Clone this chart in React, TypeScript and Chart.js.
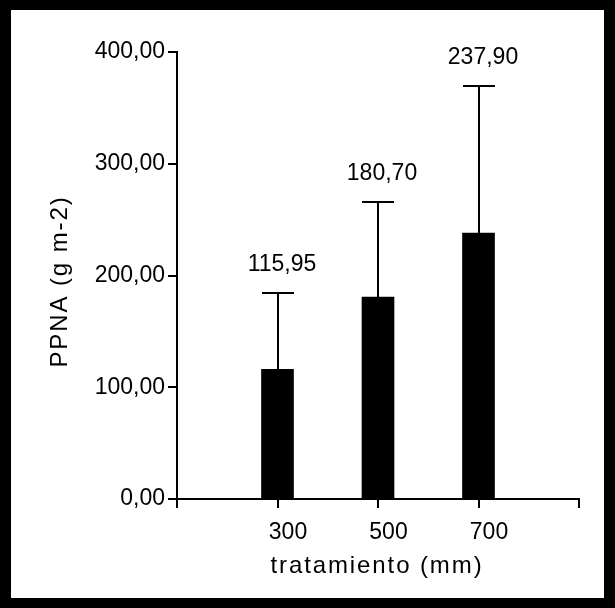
import React, { useEffect, useRef } from "react";
import { Chart, registerables } from "chart.js";

Chart.register(...registerables);

// Treatments (mm of water) and aboveground net primary production
const categories = ["300", "500", "700"];
const means = [115.95, 180.7, 237.9];
const sdUpper = [68.0, 84.7, 131.8];
const yTickValues = [0, 100, 200, 300, 400];

const xTitle = "tratamiento (mm)";
const yTitle = "PPNA (g m-2)";

const FONT = '"Liberation Sans", Arial, Helvetica, sans-serif';

const fmt = (v: number) => v.toFixed(2).replace(".", ",");

// Whiskers, value labels above them and the spaced-out axis titles
const overlay = {
  id: "overlay",
  afterDatasetsDraw(chart: any) {
    const { ctx, chartArea } = chart;
    const xs = chart.scales.x;
    const ys = chart.scales.y;
    ctx.save();
    ctx.strokeStyle = "#000";
    ctx.fillStyle = "#000";
    ctx.lineWidth = 2;
    means.forEach((m, i) => {
      const px = Math.round(xs.getPixelForValue(i + 1));
      const base = ys.getPixelForValue(m);
      const top = Math.round(ys.getPixelForValue(m + sdUpper[i]));
      ctx.beginPath();
      ctx.moveTo(px, base);
      ctx.lineTo(px, top);
      ctx.moveTo(px - 16, top);
      ctx.lineTo(px + 16, top);
      ctx.stroke();

      ctx.font = `23px ${FONT}`;
      ctx.textAlign = "center";
      ctx.textBaseline = "alphabetic";
      ctx.fillText(fmt(m), px + 4, top - 22);
    });

    ctx.font = `24px ${FONT}`;
    (ctx as any).letterSpacing = "1.9px";
    ctx.textAlign = "center";
    ctx.textBaseline = "alphabetic";
    const cx = (chartArea.left + chartArea.right) / 2 - 1;
    ctx.fillText(xTitle, cx, chartArea.bottom + 74);

    ctx.translate(chartArea.left - 110, (chartArea.top + chartArea.bottom) / 2 + 6);
    ctx.rotate(-Math.PI / 2);
    ctx.fillText(yTitle, 0, 0);
    ctx.restore();
  },
};

export default function App() {
  const ref = useRef<HTMLCanvasElement | null>(null);

  useEffect(() => {
    if (!ref.current) return;
    const chart = new Chart(ref.current, {
      type: "bar",
      data: {
        datasets: [
          {
            data: means.map((m, i) => ({ x: i + 1, y: m })),
            backgroundColor: "#000",
            borderWidth: 0,
            barThickness: 32,
          },
        ],
      },
      options: {
        responsive: false,
        animation: false,
        layout: { padding: { left: 0, top: 42, right: 25, bottom: 0 } },
        plugins: {
          legend: { display: false },
          tooltip: { enabled: false },
        },
        scales: {
          x: {
            type: "linear",
            min: 0,
            max: 4,
            offset: false,
            afterBuildTicks: (s: any) => {
              s.ticks = [0, 1, 2, 3, 4].map((v) => ({ value: v }));
            },
            afterFit: (s: any) => {
              s.height = 99;
            },
            ticks: {
              autoSkip: false,
              maxRotation: 0,
              padding: 11,
              labelOffset: 10.5,
              color: "#000",
              font: { family: FONT, size: 23 },
              callback: (v: any) => categories[Number(v) - 1] ?? "",
            },
            grid: {
              display: true,
              offset: false,
              drawOnChartArea: false,
              drawTicks: true,
              tickLength: 9,
              color: "#000",
              lineWidth: 2,
            },
            border: { display: true, color: "#000", width: 2 },
          },
          y: {
            min: 0,
            max: 400,
            afterBuildTicks: (s: any) => {
              s.ticks = yTickValues.map((v) => ({ value: v }));
            },
            afterFit: (s: any) => {
              s.width = 166;
            },
            ticks: {
              padding: 3,
              color: "#000",
              font: { family: FONT, size: 23 },
              callback: (v: any) => fmt(Number(v)),
            },
            grid: {
              display: true,
              drawOnChartArea: false,
              drawTicks: true,
              tickLength: 9,
              color: "#000",
              lineWidth: 2,
            },
            border: { display: true, color: "#000", width: 2 },
          },
        },
      },
      plugins: [overlay],
    } as any);
    return () => chart.destroy();
  }, []);

  return (
    <div
      style={{
        position: "fixed",
        left: 0,
        top: 0,
        width: 615,
        height: 608,
        background: "#000",
      }}
    >
      <div
        style={{
          position: "absolute",
          left: 11,
          top: 10,
          width: 593,
          height: 588,
          background: "#fff",
        }}
      >
        <canvas ref={ref} width={593} height={588} style={{ display: "block" }} />
      </div>
    </div>
  );
}
